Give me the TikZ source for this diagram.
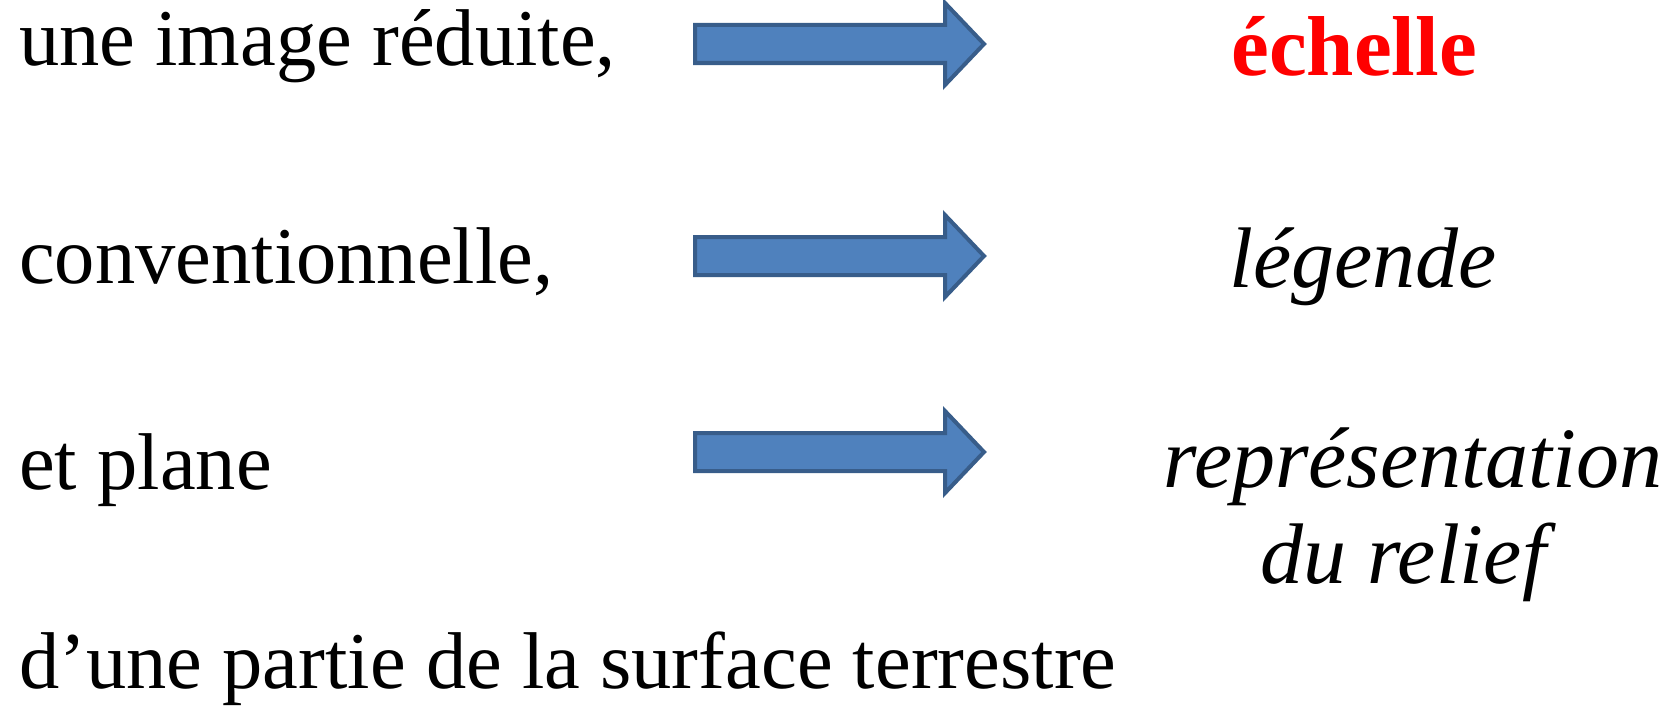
\documentclass[tikz,border=0pt]{standalone}
\usepackage{fontspec}
\setmainfont{Liberation Serif}
\definecolor{arrfill}{HTML}{4F81BD}
\definecolor{arrline}{HTML}{385D8A}
\definecolor{keyred}{HTML}{FF0000}
\begin{document}
\begin{tikzpicture}[x=1pt,y=-1pt,
  lefttext/.style={anchor=base west,inner sep=0pt,font=\fontsize{80.5}{96}\selectfont},
  righttext/.style={anchor=base,inner sep=0pt,font=\fontsize{86}{100}\selectfont\itshape},
  blockarrow/.style={fill=arrfill,draw=arrline,line width=4pt,line join=miter}]
\useasboundingbox (0,0) rectangle (1677,717);
% left column
\node[lefttext] (l1) at (19,66) {une image réduite,};
\node[lefttext] (l2) at (19,283) {conventionnelle,};
\node[lefttext] (l3) at (19,489) {et plane};
\node[lefttext] (l4) at (19,688) {d’une partie de la surface terrestre};
% right column
\node[righttext,font=\fontsize{85}{100}\selectfont\bfseries,text=keyred] (r1) at (1354,75) {échelle};
\node[righttext] (r2) at (1363,287) {légende};
\node[righttext] (r3a) at (1413,487) {représentation};
\node[righttext] (r3b) at (1403,583) {du relief};
% block arrows
\foreach \c/\n in {44/a1,256/a2,452/a3}{
  \draw[blockarrow] (695,\c-19) -- (945,\c-19) -- (945,\c-41) -- (984,\c)
     -- (945,\c+41) -- (945,\c+19) -- (695,\c+19) -- cycle;
}
\end{tikzpicture}
\end{document}
